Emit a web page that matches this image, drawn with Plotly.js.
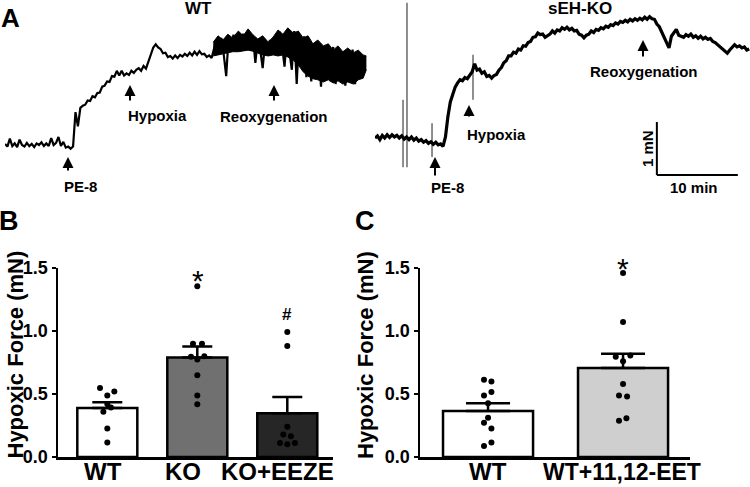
<!DOCTYPE html>
<html>
<head>
<meta charset="utf-8">
<script src="https://cdn.plot.ly/plotly-3.0.1.min.js"></script>
<style>html,body{margin:0;padding:0;background:#fff}#chart{width:750px;height:487px}</style>
</head>
<body>
<div id="chart"></div>
<script>
// ---------- DATA ----------
// Panel A: isometric force traces (mN), sampled every 0.3 min
const traceStep = 0.3;
const wtForce = [0.02,-0.03,0.12,-0.02,0.03,-0.04,0.10,0.00,-0.03,0.04,-0.02,0.02,-0.04,0.03,0.00,0.05,-0.02,0.03,-0.02,0.13,0.00,0.04,0.15,-0.02,0.06,-0.05,-0.03,-0.07,-0.03,
 0.62,0.35,0.70,
 0.74,0.76,0.84,0.83,0.92,0.90,0.98,0.99,1.10,1.12,1.20,1.19,1.30,1.29,1.40,1.31,1.40,1.31,1.35,1.32,1.40,1.36,1.42,
 1.45,1.40,1.49,1.44,1.58,1.74,1.84,1.90,1.84,1.81,1.73,1.74,1.66,1.68,1.63,1.69,1.64,1.70,1.67,1.72,1.68,1.74,1.69,1.76,1.70,1.77,1.71,1.72,1.66,1.69,1.64,1.82,
 1.95,1.78,2.02,1.70,1.30,2.05,1.85,2.08,1.82,2.02,
 1.80,2.10,1.86,2.17,1.84,2.06,1.55,2.00,1.80,1.45,
 1.95,1.75,1.98,1.78,2.05,1.82,2.14,1.86,1.48,2.10,
 1.80,1.42,2.15,1.15,2.08,1.55,2.05,1.28,1.95,1.20,
 1.92,1.40,1.88,1.10,1.85,1.30,1.80,1.20,1.85,1.15,
 1.78,1.25,1.76,1.12,1.74,1.22,1.80,1.15,1.72,1.25,
 1.62,1.40];
// dense noise envelope of the WT trace during hypoxia / reoxygenation (min, mN)
const wtBandT  = [25.7,26.3,26.9,27.5,28.1,28.8,29.4,30.0,30.6,31.2,31.8,32.5,33.1,33.7,34.3,34.9,
                  35.6,36.2,36.8,37.4,38.0,38.6,39.3,39.9,40.5,41.1,41.7,42.3,43.0,43.6,44.2,44.6];
const wtBandHi = [1.94,2.06,1.98,2.09,2.02,2.15,2.06,2.19,2.08,2.00,2.06,1.94,2.04,2.17,2.09,2.21,
                  2.11,2.15,2.02,2.06,1.91,1.98,1.87,1.91,1.79,1.87,1.76,1.83,1.74,1.79,1.70,1.68];
const wtBandLo = [1.68,1.70,1.72,1.74,1.76,1.76,1.77,1.79,1.77,1.74,1.70,1.68,1.70,1.68,1.70,1.66,
                  1.60,1.51,1.38,1.30,1.25,1.23,1.19,1.23,1.17,1.21,1.15,1.19,1.15,1.23,1.26,1.42];
const koForce = [0.00,0.04,-0.03,0.05,0.00,0.06,0.01,0.06,0.02,0.05,0.00,0.04,-0.02,0.02,-0.03,0.02,-0.04,0.00,-0.06,-0.03,
 -0.08,-0.05,-0.10,-0.07,-0.12,-0.08,-0.13,-0.11,-0.16,0.02,
 0.40,0.68,0.82,0.96,1.04,1.10,1.08,1.14,1.12,1.20,
 1.25,1.40,1.28,1.30,1.22,1.25,1.16,1.18,1.13,1.18,
 1.20,1.28,1.33,1.42,1.46,1.55,1.55,1.62,1.60,1.68,
 1.66,1.74,1.73,1.80,1.82,1.90,1.91,1.98,1.95,1.96,
 1.90,1.93,1.96,2.02,1.98,2.04,2.02,2.08,2.05,2.09,
 2.04,2.07,2.02,2.03,1.96,1.94,1.89,1.94,1.96,2.02,
 1.99,2.05,2.03,2.08,2.06,2.11,2.09,2.14,2.12,2.17,
 2.15,2.20,2.18,2.22,2.19,2.24,2.21,2.25,2.22,2.26,
 2.23,2.28,2.24,2.29,2.25,2.24,2.15,2.10,2.00,1.92,
 1.80,1.70,1.92,1.98,2.05,1.94,1.92,1.90,1.95,1.92,
 1.96,1.90,1.93,1.88,1.92,1.87,1.90,1.86,1.88,1.82,
 1.80,1.76,1.72,1.68,1.64,1.60,1.66,1.72,1.76,1.72,
 1.74,1.70,1.72,1.66,1.68];
// stimulation artefacts in the KO trace (min, mN)
const koArtT = [3.46,3.46,null,3.95,3.95,null,7.04,7.04,null,12.1,12.1];
const koArtF = [0.72,-0.55,null,2.55,-0.55,null,0.28,-0.36,null,1.57,0.72];
// scale bar
const scaleMin = 10, scaleMN = 1;

// Panel B
const bCats = ['WT','KO','KO+EEZE'];
const bMeans = [0.389, 0.789, 0.347];
const bSem = [0.046, 0.088, 0.130];
const bWT = [0.547,0.520,0.488,0.421,0.392,0.360,0.227,0.115];
const bKO = [1.355,0.899,0.899,0.795,0.800,0.773,0.648,0.488,0.419];
const bEEZE = [0.992,0.880,0.240,0.179,0.165,0.112,0.101,0.112];
// Panel C
const cCats = ['WT','WT+11,12-EET'];
const cMeans = [0.365, 0.707];
const cSem = [0.062, 0.112];
const cWT = [0.613,0.600,0.488,0.515,0.427,0.312,0.272,0.227,0.088,0.115];
const cEET = [1.461,1.072,0.795,0.805,0.760,0.579,0.488,0.480,0.288,0.307];
const yTicks = [0, 0.5, 1.0, 1.5];
const yTickText = ['0.0','0.5','1.0','1.5'];

// ---------- LAYOUT HELPERS ----------
const bJit = [[-0.081,0.078,0,0,0.04,-0.044,0,0],[0,-0.048,0.052,-0.07,0.078,0,0,0,0],[0,0,0,-0.044,0.04,-0.081,0,0.085]];
const cJit = [[-0.03,0.025,-0.03,0.025,0,0,-0.03,0.025,-0.03,0.025],[0,0,-0.054,0.054,0,0,-0.03,0.03,-0.03,0.025]];
const FAM = 'Liberation Sans, Arial, Helvetica, sans-serif';
const W = 750, H = 487;
const px = x => x / W, py = y => 1 - y / H;

function txt(t, x, y, size, extra) {
  return Object.assign({text: '<b>' + t + '</b>', x: px(x), y: py(y), xref: 'paper', yref: 'paper', showarrow: false,
    xanchor: 'center', yanchor: 'middle', font: {family: FAM, size: size, color: 'black'}}, extra || {});
}
function arrow(x, tipY, tailY) {
  return {text: '', x: px(x), y: py(tipY), xref: 'paper', yref: 'paper', showarrow: true,
    ax: 0, ay: tailY - tipY, arrowhead: 2, arrowsize: 1.1, arrowwidth: 2, arrowcolor: 'black', standoff: 0};
}

const traces = [];
traces.push({type: 'scatter', mode: 'lines', x: wtBandT, y: wtBandLo, xaxis: 'x3', yaxis: 'y3',
  line: {color: 'black', width: 1}, hoverinfo: 'skip'});
traces.push({type: 'scatter', mode: 'lines', x: wtBandT, y: wtBandHi, xaxis: 'x3', yaxis: 'y3', fill: 'tonexty',
  fillcolor: 'black', line: {color: 'black', width: 1}, hoverinfo: 'skip'});
traces.push({type: 'scatter', mode: 'lines', y: wtForce, x0: 0, dx: traceStep, xaxis: 'x3', yaxis: 'y3',
  line: {color: 'black', width: 2.2}, hoverinfo: 'skip'});
traces.push({type: 'scatter', mode: 'lines', x: koArtT, y: koArtF, xaxis: 'x4', yaxis: 'y4',
  line: {color: '#444', width: 1.2}, connectgaps: false, hoverinfo: 'skip'});
traces.push({type: 'scatter', mode: 'lines', y: koForce, x0: 0, dx: traceStep, xaxis: 'x4', yaxis: 'y4',
  line: {color: 'black', width: 3.2}, hoverinfo: 'skip'});

// Panel B bars
traces.push({type: 'bar', x: bCats.map((c, i) => i), y: bMeans, width: 0.667, xaxis: 'x', yaxis: 'y',
  marker: {color: ['#ffffff', '#707070', '#262626'], line: {color: 'black', width: 2.5}},
  error_y: {type: 'data', symmetric: false, array: bSem, arrayminus: [0, 0, 0], color: 'black', thickness: 2.5, width: 15}});
[bWT, bKO, bEEZE].forEach((vals, g) => {
  traces.push({type: 'scatter', mode: 'markers', x: vals.map((v, k) => g + bJit[g][k]), y: vals, xaxis: 'x', yaxis: 'y',
    marker: {color: 'black', size: 6}, cliponaxis: false});
});
// Panel C bars
traces.push({type: 'bar', x: cCats.map((c, i) => i), y: cMeans, width: 0.667, xaxis: 'x2', yaxis: 'y2',
  marker: {color: ['#ffffff', '#cfcfcf'], line: {color: 'black', width: 2.5}},
  error_y: {type: 'data', symmetric: false, array: cSem, arrayminus: [0, 0], color: 'black', thickness: 2.5, width: 22}});
[cWT, cEET].forEach((vals, g) => {
  traces.push({type: 'scatter', mode: 'markers', x: vals.map((v, k) => g + cJit[g][k]), y: vals, xaxis: 'x2', yaxis: 'y2',
    marker: {color: 'black', size: 6}, cliponaxis: false});
});

const yAxisStyle = {range: [0, 1.5], tickvals: yTicks, ticktext: yTickText.map(t => '<b>' + t + '</b>'), ticks: 'outside', ticklen: 4, tickwidth: 2.5,
  tickcolor: 'black', showline: true, linewidth: 2.5, linecolor: 'black', showgrid: false, zeroline: false,
  tickfont: {family: FAM, size: 18, color: 'black', weight: 700}, fixedrange: true};
const xAxisStyle = {showline: true, linewidth: 2.5, linecolor: 'black', showgrid: false, zeroline: false,
  showticklabels: false, ticks: '', fixedrange: true};

const layout = {
  width: W, height: H, margin: {l: 0, r: 0, t: 0, b: 0}, showlegend: false,
  paper_bgcolor: 'white', plot_bgcolor: 'rgba(0,0,0,0)', font: {family: FAM, color: 'black'},
  xaxis: Object.assign({}, xAxisStyle, {domain: [px(58), px(333)], range: [-0.548, 2.508], anchor: 'y'}),
  yaxis: Object.assign({}, yAxisStyle, {domain: [py(457), py(268)], anchor: 'x'}),
  xaxis2: Object.assign({}, xAxisStyle, {domain: [px(420), px(690)], range: [-0.504, 1.496], anchor: 'y2'}),
  yaxis2: Object.assign({}, yAxisStyle, {domain: [py(457), py(268)], anchor: 'x2'}),
  xaxis3: {domain: [px(5), px(368)], range: [0, 44.8], visible: false, anchor: 'y3', fixedrange: true},
  yaxis3: {domain: [py(200), 1], range: [-1.038, 2.736], visible: false, anchor: 'x3', fixedrange: true},
  xaxis4: {domain: [0.5, 1], range: [0, 46.3], visible: false, anchor: 'y4', fixedrange: true},
  yaxis4: {domain: [py(200), 1], range: [-1.17, 2.604], visible: false, anchor: 'x4', fixedrange: true},
  bargap: 0,
  shapes: [
    {type: 'line', xref: 'x4', yref: 'y4', x0: 34.8, x1: 34.8, y0: -0.698, y1: -0.698 + scaleMN, line: {color: 'black', width: 2}},
    {type: 'line', xref: 'x4', yref: 'y4', x0: 34.8, x1: 34.8 + scaleMin, y0: -0.698, y1: -0.698, line: {color: 'black', width: 2}}
  ],
  annotations: [
    txt('A', 10, 1, 26, {yanchor: 'top'}), txt('B', 9, 221, 27), txt('C', 365, 221, 27),
    txt('WT', 198, 9, 17), txt('sEH-KO', 580, 9, 17),
    txt('PE-8', 80.5, 186, 15), txt('Hypoxia', 157, 116, 15), txt('Reoxygenation', 273.5, 117, 15),
    txt('PE-8', 447.5, 187, 15), txt('Hypoxia', 496, 135, 15), txt('Reoxygenation', 644, 72, 15),
    txt(scaleMN + ' mN', 647, 149, 15, {textangle: -90}), txt(scaleMin + ' min', 694, 187, 15),
    arrow(68, 157, 172), arrow(130, 85, 102), arrow(274, 85, 102),
    arrow(435, 157, 177), arrow(469, 105, 118), arrow(643, 40, 58),
    txt('Hypoxic Force (mN)', 0, 355, 22, {textangle: -90, xanchor: 'left'}),
    txt('Hypoxic Force (mN)', 365, 355, 22, {textangle: -90}),
    txt(bCats[0], 102.5, 487, 24, {yanchor: 'bottom'}), txt(bCats[1], 182.5, 487, 24, {yanchor: 'bottom'}),
    txt(bCats[2], 277.5, 487, 24, {yanchor: 'bottom'}),
    txt(cCats[0], 487.5, 487, 24, {yanchor: 'bottom'}), txt(cCats[1], 621.5, 487, 23, {yanchor: 'bottom'}),
    {text: '*', x: px(198), y: py(280), xref: 'paper', yref: 'paper', showarrow: false, xanchor: 'center', yanchor: 'middle',
      font: {family: FAM, size: 30, color: 'black'}},
    {text: '*', x: px(623), y: py(268), xref: 'paper', yref: 'paper', showarrow: false, xanchor: 'center', yanchor: 'middle',
      font: {family: FAM, size: 30, color: 'black'}},
    txt('#', 287, 314, 17)
  ]
};

Plotly.newPlot('chart', traces, layout, {staticPlot: true, displayModeBar: false});
</script>
</body>
</html>
